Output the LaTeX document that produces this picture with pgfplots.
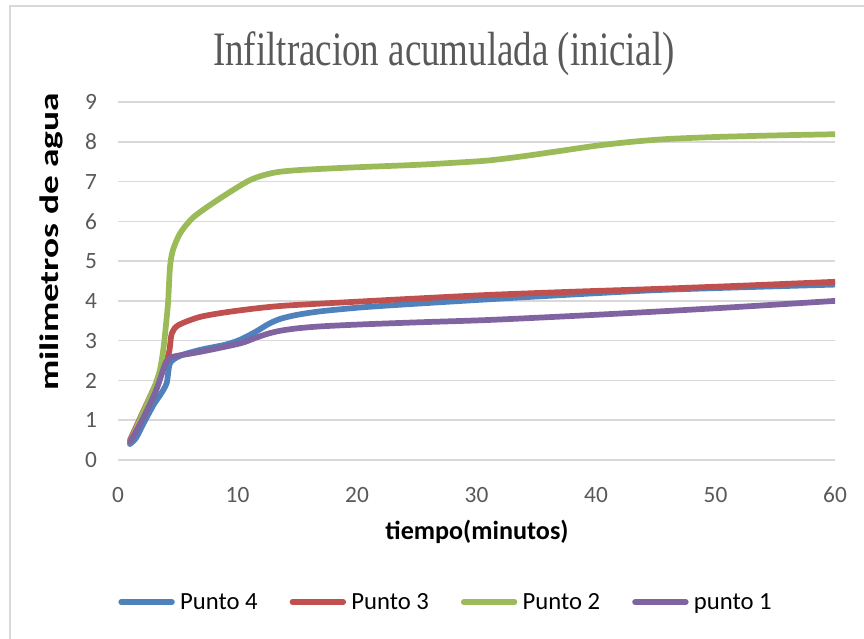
\documentclass[border=0pt]{standalone}
\usepackage{pgfplots}
\pgfplotsset{compat=1.18}
\usepackage{fontspec}
\setmainfont{Carlito}
\newfontfamily\titlefont{Liberation Serif}[FakeStretch=0.77]
\newfontfamily\calV{Carlito}[FakeStretch=1.4]
\definecolor{cblue}{HTML}{4F81BD}
\definecolor{cred}{HTML}{C0504D}
\definecolor{cgreen}{HTML}{9BBB59}
\definecolor{cpurple}{HTML}{8064A2}
\definecolor{cgrid}{HTML}{D9D9D9}
\definecolor{ctext}{HTML}{595959}
\begin{document}
\begin{tikzpicture}
\useasboundingbox (0,0) rectangle (648pt,479.25pt);
\draw[cgrid, line width=1.1pt] (7.5pt,-20pt) -- (7.5pt,474.75pt) -- (700pt,474.75pt);
\begin{axis}[
  at={(88.5pt,134.25pt)}, anchor=south west,
  scale only axis, width=537.75pt, height=268.5pt,
  xmin=0, xmax=60, ymin=0, ymax=9,
  xtick={0,10,...,60}, ytick={0,1,...,9},
  /pgf/number format/assume math mode=true,
  axis line style={draw=none},
  ymajorgrids, grid style={cgrid, line width=1.1pt},
  major tick length=0pt,
  tick label style={font=\fontsize{17.5pt}{20pt}\selectfont, text=ctext, inner sep=0pt},
  yticklabel style={anchor=east, xshift=-15.5pt},
  xticklabel style={anchor=north, yshift=-20pt},
  legend columns=4,
  legend style={at={(axis description cs:0.458,-0.397)}, anchor=center, draw=none, fill=none,
    font=\fontsize{18.5pt}{21pt}\selectfont, inner sep=0pt,
    /tikz/every even column/.append style={column sep=22pt},
    /tikz/every odd column/.append style={column sep=2pt}},
  legend image code/.code={\draw[#1, line width=4.3pt, line cap=round] (0pt,0pt) -- (38pt,0pt);},
  every axis plot/.append style={line width=4.3pt, line join=round, line cap=round, smooth, tension=0.45},
]
\addplot[cblue] coordinates {(1,0.4) (1.5,0.55) (2.1,0.9) (3,1.4) (3.5,1.62) (4.07,1.93) (4.35,2.43) (5.2,2.62) (6.9,2.77) (9,2.9) (10.2,3.02) (11.5,3.22) (12.6,3.42) (13.6,3.55) (15,3.65) (17,3.74) (20.5,3.84) (25,3.93) (31,4.04) (38,4.16) (45,4.27) (52,4.34) (60,4.41)};
\addlegendentry{Punto 4}
\addplot[cred] coordinates {(1,0.5) (2,1.15) (3,1.8) (3.5,2.1) (4,2.45) (4.3,2.75) (4.5,3.18) (5.05,3.39) (6.9,3.6) (9.65,3.74) (13.5,3.87) (20,3.98) (25,4.06) (31,4.15) (38,4.23) (45,4.3) (52,4.38) (60,4.48)};
\addlegendentry{Punto 3}
\addplot[cgreen] coordinates {(1,0.45) (2,1.12) (3,1.8) (3.5,2.25) (3.8,2.8) (4.05,3.5) (4.2,4.0) (4.35,4.85) (4.6,5.28) (5.2,5.7) (6.3,6.1) (8.3,6.53) (11,7.03) (13,7.22) (15.2,7.29) (20,7.36) (25,7.42) (28,7.47) (31,7.53) (34,7.64) (37,7.77) (40,7.9) (43,8.0) (46,8.07) (50,8.12) (55,8.16) (60,8.19)};
\addlegendentry{Punto 2}
\addplot[cpurple] coordinates {(1,0.45) (2.1,1.05) (3.2,1.76) (3.93,2.4) (4.2,2.52) (4.63,2.6) (6.9,2.72) (10.2,2.93) (11.5,3.07) (12.6,3.18) (13.6,3.25) (15,3.31) (17,3.36) (20.5,3.41) (25,3.46) (31,3.52) (38,3.62) (45,3.73) (52,3.85) (60,4.0)};
\addlegendentry{punto 1}
\end{axis}
\node[anchor=base, text=ctext, inner sep=0pt] at (333pt,429.75pt) {\titlefont\fontsize{36pt}{40pt}\selectfont Infiltracion acumulada (inicial)};
\node[anchor=base, inner sep=0pt] at (357.75pt,74.25pt) {\fontsize{19.6pt}{22pt}\selectfont\bfseries tiempo(minutos)};
\node[rotate=90, anchor=center, inner sep=0pt] at (38.5pt,297.75pt) {\calV\fontsize{20pt}{22pt}\selectfont\bfseries milimetros de agua};
\end{tikzpicture}
\end{document}
